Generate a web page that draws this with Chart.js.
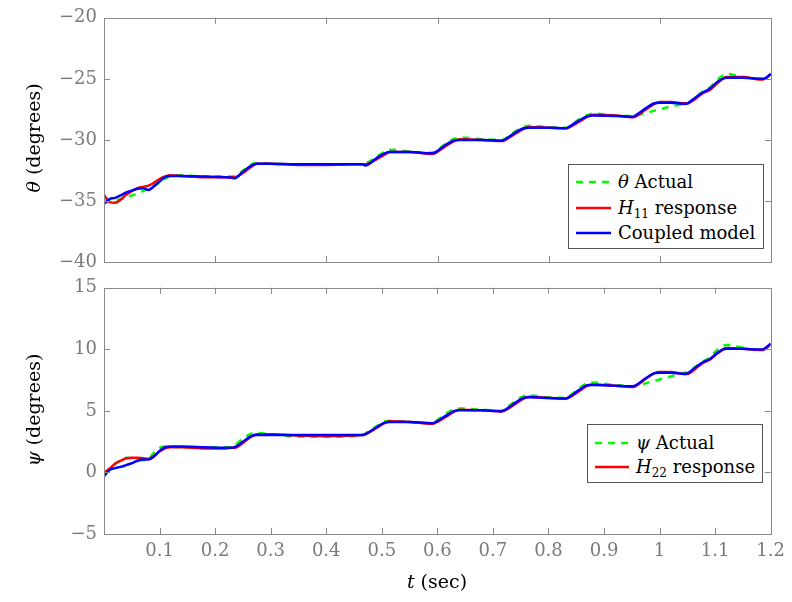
<!DOCTYPE html>
<html><head><meta charset="utf-8">
<script src="https://cdn.jsdelivr.net/npm/chart.js@4.4.1/dist/chart.umd.min.js"></script>
<style>
html,body{margin:0;padding:0;background:#fff;}
#wrap{position:relative;width:792px;height:602px;overflow:hidden;font-family:"DejaVu Serif","Liberation Serif",serif;color:#000;}
canvas{position:absolute;left:0;}
#c1{top:0;}
#c2{top:270px;}
.ytitle{position:absolute;left:33px;font-size:19px;white-space:nowrap;transform:translate(-50%,-50%) rotate(-90deg);}
.xtitle{position:absolute;font-size:19px;white-space:nowrap;transform:translate(-50%,-50%);}
.legend{position:absolute;box-sizing:border-box;border:1px solid #555;background:#fff;}
.row{position:absolute;left:0;height:24px;margin-top:-12px;white-space:nowrap;font-size:18px;line-height:24px;}
.row svg{position:absolute;top:0;}
.row span.t{position:absolute;top:0;}
sub{font-size:12px;vertical-align:-4px;line-height:0;}
i{font-style:italic;}
</style>
</head><body>
<div id="wrap">
  <canvas id="c1" width="792" height="280"></canvas>
  <canvas id="c2" width="792" height="332"></canvas>
  <div class="ytitle" style="top:138px;"><i>θ</i> (degrees)</div>
  <div class="ytitle" style="top:410px;"><i>ψ</i> (degrees)</div>
  <div class="xtitle" style="left:437px;top:581px;"><i>t</i> (sec)</div>
  <div class="legend" style="left:568px;top:164px;width:196px;height:85px;">
    <div class="row" style="top:17px;"><svg width="50" height="24" style="left:7px"><line x1="0" y1="12" x2="35" y2="12" stroke="#00ff00" stroke-width="2.5" stroke-dasharray="7,6"/></svg><span class="t" style="left:49px"><i>θ</i> Actual</span></div>
    <div class="row" style="top:43px;"><svg width="50" height="24" style="left:7px"><line x1="0" y1="12" x2="35" y2="12" stroke="#ff0000" stroke-width="2.5"/></svg><span class="t" style="left:49px"><i>H</i><sub>11</sub> response</span></div>
    <div class="row" style="top:68px;"><svg width="50" height="24" style="left:7px"><line x1="0" y1="12" x2="35" y2="12" stroke="#0000ff" stroke-width="2.5"/></svg><span class="t" style="left:49px">Coupled model</span></div>
  </div>
  <div class="legend" style="left:587px;top:424px;width:176px;height:59px;">
    <div class="row" style="top:18px;"><svg width="50" height="24" style="left:7px"><line x1="0" y1="12" x2="34" y2="12" stroke="#00ff00" stroke-width="2.5" stroke-dasharray="7,6"/></svg><span class="t" style="left:48px"><i>ψ</i> Actual</span></div>
    <div class="row" style="top:42px;"><svg width="50" height="24" style="left:7px"><line x1="0" y1="12" x2="34" y2="12" stroke="#ff0000" stroke-width="2.5"/></svg><span class="t" style="left:48px"><i>H</i><sub>22</sub> response</span></div>
  </div>
</div>
<script>
// time samples (s)
const T = [0,0.01,0.02,0.03,0.04,0.05,0.06,0.07,0.08,0.09,0.10,
  0.11,0.12,0.14,0.18,0.22,0.23,0.235,0.25,0.265,0.275,0.30,
  0.35,0.40,0.45,0.465,0.47,0.49,0.505,0.515,0.55,0.59,0.595,
  0.615,0.63,0.64,0.68,0.715,0.72,0.74,0.755,0.765,0.80,0.832,
  0.836,0.855,0.87,0.88,0.92,0.952,0.956,0.975,0.99,1.0,1.02,
  1.045,1.05,1.065,1.078,1.09,1.105,1.12,1.15,1.18,1.186,1.2];

// theta (degrees)
const thetaActual = [-35.2,-35.05,-34.95,-34.85,-34.7,-34.55,-34.4,-34.2,-34.0,-33.75,-33.5,
  -33.2,-32.95,-32.9,-33.0,-33.0,-33.0,-32.95,-32.5,-32.0,-31.9,-31.95,
  -32.0,-32.0,-32.0,-32.0,-31.95,-31.4,-30.95,-30.8,-30.95,-31.05,-31.0,
  -30.3,-29.9,-29.8,-29.95,-30.0,-29.95,-29.3,-28.95,-28.85,-28.95,-29.0,
  -28.95,-28.3,-27.95,-27.85,-28.0,-28.05,-28.0,-27.8,-27.6,-27.5,-27.25,
  -27.05,-27.0,-26.5,-26.0,-25.7,-25.0,-24.6,-24.85,-25.0,-25.05,-24.6];
const thetaH11 = [-34.5,-35.1,-35.15,-34.9,-34.5,-34.2,-33.95,-33.85,-33.75,-33.5,-33.2,
  -33.0,-32.9,-32.95,-33.05,-33.05,-33.05,-33.05,-32.7,-32.2,-31.95,-31.95,
  -32.05,-32.05,-32.0,-32.0,-32.0,-31.6,-31.2,-31.0,-31.0,-31.15,-31.1,
  -30.5,-30.1,-29.95,-30.0,-30.1,-30.05,-29.5,-29.1,-28.95,-29.0,-29.05,
  -29.0,-28.5,-28.1,-27.95,-28.0,-28.15,-28.1,-27.5,-27.05,-26.9,-26.9,
  -27.0,-27.0,-26.6,-26.15,-25.9,-25.3,-24.85,-24.85,-25.05,-25.05,-24.6];
const thetaCoupled = [-35.2,-34.85,-34.75,-34.55,-34.3,-34.15,-34.0,-33.95,-34.1,-33.8,-33.4,
  -33.05,-32.95,-32.95,-33.0,-33.05,-33.1,-33.15,-32.6,-32.1,-31.95,-31.95,
  -32.0,-32.0,-32.0,-32.0,-32.1,-31.5,-31.1,-31.0,-31.0,-31.1,-31.05,
  -30.4,-30.05,-30.0,-30.0,-30.07,-30.0,-29.4,-29.05,-29.0,-29.0,-29.05,
  -28.95,-28.4,-28.05,-28.0,-28.05,-28.1,-28.0,-27.4,-27.0,-26.95,-26.95,
  -27.05,-27.0,-26.5,-26.1,-25.8,-25.2,-24.9,-24.9,-25.0,-25.0,-24.6];

// psi (degrees)
const psiActual = [0.0,0.3,0.7,1.0,1.2,1.15,1.0,1.0,1.1,1.6,2.0,
  2.1,2.1,2.05,2.05,2.05,2.05,2.2,2.75,3.15,3.2,3.1,
  2.9,2.9,2.95,3.0,3.15,3.75,4.15,4.2,4.1,4.0,4.1,
  4.75,5.15,5.2,5.1,5.0,5.1,5.8,6.2,6.25,6.1,6.05,
  6.15,6.85,7.25,7.3,7.1,7.0,7.0,7.24,7.42,7.55,7.8,
  8.1,8.15,8.6,9.0,9.35,10.0,10.35,10.15,9.9,9.95,10.45];
const psiH22 = [-0.1,0.3,0.7,0.95,1.15,1.2,1.2,1.15,1.1,1.35,1.7,
  1.95,2.05,2.05,1.95,1.95,2.0,2.0,2.4,2.9,3.1,3.1,
  3.0,2.95,3.0,3.05,3.1,3.6,4.0,4.15,4.1,3.95,4.0,
  4.5,4.95,5.1,5.05,4.95,5.0,5.55,6.0,6.15,6.05,6.0,
  6.05,6.6,7.05,7.15,7.05,6.95,7.0,7.6,8.05,8.15,8.15,
  8.0,8.0,8.45,8.9,9.15,9.7,10.1,10.05,9.95,9.95,10.45];
const psiCoupled = [-0.3,0.2,0.35,0.45,0.6,0.75,0.95,1.05,1.05,1.3,1.75,
  2.05,2.1,2.1,2.05,2.0,2.0,2.05,2.5,2.95,3.05,3.05,
  3.05,3.05,3.05,3.05,3.1,3.65,4.05,4.1,4.1,4.0,4.05,
  4.6,4.98,5.05,5.05,4.98,5.05,5.65,6.05,6.1,6.05,6.0,
  6.1,6.7,7.08,7.1,7.05,7.0,7.05,7.65,8.05,8.1,8.1,
  8.0,8.05,8.55,8.95,9.2,9.75,10.05,10.05,9.98,10.0,10.45];

// axis ranges / ticks
const xRange = [0, 1.2];
const thetaRange = [-40, -20];
const psiRange = [-5, 15];
const yStep = 5;

const pts = arr => T.map((t, i) => ({x: t, y: arr[i]}));
const GRAY = '#7a7a7a';
const tickFont = {family: '"DejaVu Serif", "Liberation Serif", serif', size: 18};
const fmt = v => { const r = Math.round(v * 10) / 10; return (r < 0 ? '\u2212' : '') + Math.abs(r); };

const framePlugin = {
  id: 'frame',
  afterDatasetsDraw(chart) {
    const {ctx, chartArea: a, scales} = chart;
    const L = 6;
    ctx.save();
    ctx.strokeStyle = '#8a8a8a';
    ctx.lineWidth = 1;
    ctx.beginPath();
    scales.x.ticks.forEach(t => {
      if (t.value <= scales.x.min + 1e-9 || t.value >= scales.x.max - 1e-9) return;
      const px = Math.round(scales.x.getPixelForValue(t.value)) + 0.5;
      ctx.moveTo(px, a.bottom); ctx.lineTo(px, a.bottom - L);
      ctx.moveTo(px, a.top); ctx.lineTo(px, a.top + L);
    });
    scales.y.ticks.forEach(t => {
      if (t.value <= scales.y.min + 1e-9 || t.value >= scales.y.max - 1e-9) return;
      const py = Math.round(scales.y.getPixelForValue(t.value)) + 0.5;
      ctx.moveTo(a.left, py); ctx.lineTo(a.left + L, py);
      ctx.moveTo(a.right, py); ctx.lineTo(a.right - L, py);
    });
    ctx.stroke();
    ctx.strokeRect(Math.round(a.left) + 0.5, Math.round(a.top) + 0.5, Math.round(a.right - a.left), Math.round(a.bottom - a.top));
    ctx.restore();
  }
};

function ds(label, arr, color, dashed) {
  return {label, data: pts(arr), borderColor: color, backgroundColor: color,
    borderWidth: 2.5, borderDash: dashed ? [7, 6] : [], pointRadius: 0,
    cubicInterpolationMode: 'monotone', fill: false};
}

function makeChart(id, datasets, yr, xStep, showX, padTop, xHeight) {
  return new Chart(document.getElementById(id), {
    type: 'line',
    data: {datasets},
    plugins: [framePlugin],
    options: {
      responsive: false, animation: false, events: [],
      layout: {padding: {left: 0, right: 21, top: padTop, bottom: 0}},
      plugins: {legend: {display: false}, tooltip: {enabled: false}},
      scales: {
        x: {type: 'linear', min: xRange[0], max: xRange[1],
          grid: {display: false, drawTicks: false}, border: {display: false},
          ticks: {display: showX, stepSize: xStep, color: GRAY, font: tickFont, padding: 7, maxRotation: 0,
            autoSkip: false, callback: v => Math.abs(v) < 1e-9 ? '' : fmt(v)},
          afterFit: s => { s.height = xHeight; }},
        y: {type: 'linear', min: yr[0], max: yr[1],
          grid: {display: false, drawTicks: false}, border: {display: false},
          ticks: {stepSize: yStep, color: GRAY, font: tickFont, padding: 7, callback: v => fmt(v)},
          afterFit: s => { s.width = 104; }}
      }
    }
  });
}

makeChart('c1', [
  ds('Coupled model', thetaCoupled, '#0000ff', false),
  ds('H11 response', thetaH11, '#ff0000', false),
  ds('θ Actual', thetaActual, '#00ff00', true)
], thetaRange, 0.2, false, 15, 18);

makeChart('c2', [
  ds('Coupled model', psiCoupled, '#0000ff', false),
  ds('H22 response', psiH22, '#ff0000', false),
  ds('ψ Actual', psiActual, '#00ff00', true)
], psiRange, 0.1, true, 17, 68);
</script>
</body></html>
